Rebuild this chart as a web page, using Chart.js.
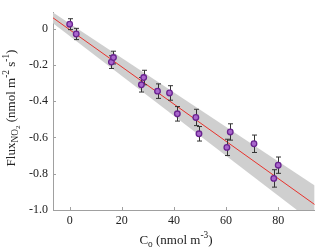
<!DOCTYPE html>
<html>
<head>
<meta charset="utf-8">
<script src="https://cdn.jsdelivr.net/npm/chart.js@4.4.0/dist/chart.umd.min.js"></script>
<style>
  html, body { margin: 0; padding: 0; background: #fff; }
  #wrap { width: 320px; height: 251px; }
</style>
</head>
<body>
<div id="wrap"><canvas id="chart" width="320" height="251"></canvas></div>
<script>
// measured points (C_o, flux) with error bars
const concX = [0, 2.5, 16, 16.8, 27.5, 28.4, 33.7, 38.3, 41.3, 48.4, 49.6, 60.3, 61.6, 70.7, 78.3, 80];
const fluxY = [0.024, -0.03, -0.185, -0.16, -0.31, -0.27, -0.345, -0.355, -0.47, -0.49, -0.58, -0.655, -0.57, -0.635, -0.826, -0.753];
const fluxErr = [0.03, 0.031, 0.035, 0.035, 0.04, 0.04, 0.04, 0.04, 0.04, 0.045, 0.04, 0.045, 0.045, 0.048, 0.048, 0.045];

// regression line and shaded band
const fitX = [-6.4, 94];
const fitY = [0.059, -0.97];
const bandUpper = [0.089, -0.865];
const bandLower = [0.029, -1.075];

const xTicks = [0, 20, 40, 60, 80];
const yTicks = [-1.0, -0.8, -0.6, -0.4, -0.2, 0];

const serif = "'Liberation Serif', 'Times New Roman', serif";
const axisColor = '#a0a0a0';

function pts(xs, ys) {
  return xs.map((x, i) => ({ x: x, y: ys[i] }));
}

// error bars, drawn right after the fit line so markers sit on top
const errorBars = {
  id: 'errorBars',
  afterDatasetDraw(chart, args) {
    if (args.index !== 1) return;
    const ctx = chart.ctx;
    const xs = chart.scales.x, ys = chart.scales.y;
    ctx.save();
    ctx.strokeStyle = '#333';
    ctx.lineWidth = 1;
    concX.forEach((cx, i) => {
      const px = Math.round(xs.getPixelForValue(cx)) + 0.5;
      const top = ys.getPixelForValue(fluxY[i] + fluxErr[i]);
      const bot = ys.getPixelForValue(fluxY[i] - fluxErr[i]);
      ctx.beginPath();
      ctx.moveTo(px, top); ctx.lineTo(px, bot);
      ctx.moveTo(px - 2.5, top); ctx.lineTo(px + 2.5, top);
      ctx.moveTo(px - 2.5, bot); ctx.lineTo(px + 2.5, bot);
      ctx.stroke();
    });
    ctx.restore();
  }
};

function drawRich(ctx, parts, size) {
  // parts: [text, kind] kind: n, sub, subsub, sup
  const spec = {
    n: { s: 1, dy: 0 },
    sub: { s: 0.72, dy: 0.3 },
    subsub: { s: 0.55, dy: 0.5 },
    sup: { s: 0.72, dy: -0.4 }
  };
  let total = 0;
  parts.forEach(p => {
    ctx.font = (size * spec[p[1]].s) + 'px ' + serif;
    total += ctx.measureText(p[0]).width;
  });
  let x = -total / 2;
  parts.forEach(p => {
    const sp = spec[p[1]];
    ctx.font = (size * sp.s) + 'px ' + serif;
    ctx.fillText(p[0], x, sp.dy * size);
    x += ctx.measureText(p[0]).width;
  });
}

const axisDecor = {
  id: 'axisDecor',
  afterDraw(chart) {
    const ctx = chart.ctx;
    const xs = chart.scales.x, ys = chart.scales.y;
    const area = chart.chartArea;
    ctx.save();
    // inward tick marks
    ctx.strokeStyle = axisColor;
    ctx.lineWidth = 1;
    ctx.beginPath();
    xTicks.forEach(v => {
      const px = Math.round(xs.getPixelForValue(v)) + 0.5;
      ctx.moveTo(px, area.bottom); ctx.lineTo(px, area.bottom - 3);
    });
    yTicks.forEach(v => {
      const py = Math.round(ys.getPixelForValue(v)) + 0.5;
      ctx.moveTo(area.left, py); ctx.lineTo(area.left + 3, py);
    });
    ctx.stroke();

    // axis titles
    ctx.fillStyle = '#222';
    ctx.textBaseline = 'middle';
    ctx.textAlign = 'left';
    ctx.save();
    ctx.translate(176, 241);
    drawRich(ctx, [['C', 'n'], ['o', 'sub'], [' (nmol m', 'n'], ['-3', 'sup'], [')', 'n']], 13);
    ctx.restore();

    ctx.save();
    ctx.translate(12, 108);
    ctx.rotate(-Math.PI / 2);
    drawRich(ctx, [['Flux', 'n'], ['NO', 'sub'], ['2', 'subsub'], [' (nmol m', 'n'], ['-2', 'sup'], [' s', 'n'], ['-1', 'sup'], [')', 'n']], 13);
    ctx.restore();
    ctx.restore();
  }
};

new Chart(document.getElementById('chart'), {
  type: 'scatter',
  data: {
    datasets: [
      {
        label: 'Flux',
        data: pts(concX, fluxY),
        pointStyle: 'circle',
        pointRadius: 2.8,
        backgroundColor: '#a866cc',
        borderColor: '#6a2390',
        borderWidth: 1.3
      },
      {
        label: 'Fit',
        type: 'line',
        data: pts(fitX, fitY),
        borderColor: '#e8322c',
        borderWidth: 1,
        pointRadius: 0,
        fill: false
      },
      {
        label: 'Band upper',
        type: 'line',
        data: pts(fitX, bandUpper),
        borderWidth: 0,
        borderColor: 'rgba(0,0,0,0)',
        pointRadius: 0,
        backgroundColor: '#cfcfcf',
        fill: '+1'
      },
      {
        label: 'Band lower',
        type: 'line',
        data: pts(fitX, bandLower),
        borderWidth: 0,
        borderColor: 'rgba(0,0,0,0)',
        pointRadius: 0,
        fill: false
      }
    ]
  },
  options: {
    responsive: false,
    animation: false,
    layout: { padding: { top: 12, right: 1, left: 0, bottom: 0 } },
    plugins: {
      legend: { display: false },
      tooltip: { enabled: false }
    },
    scales: {
      x: {
        type: 'linear',
        min: -6.4,
        max: 94,
        afterBuildTicks: s => { s.ticks = xTicks.map(v => ({ value: v })); },
        afterFit: s => { s.height = 41; },
        grid: { drawOnChartArea: false, drawTicks: false },
        border: { display: true, color: axisColor, width: 1 },
        ticks: {
          padding: 4,
          color: '#222',
          font: { family: serif, size: 12 },
          callback: v => String(v)
        }
      },
      y: {
        type: 'linear',
        min: -1.0,
        max: 0.09,
        afterBuildTicks: s => { s.ticks = yTicks.map(v => ({ value: v })); },
        afterFit: s => { s.width = 53; },
        grid: { drawOnChartArea: false, drawTicks: false },
        border: { display: true, color: axisColor, width: 1 },
        ticks: {
          padding: 5,
          color: '#222',
          font: { family: serif, size: 12 },
          callback: v => (v === 0 ? '0' : v.toFixed(1))
        }
      }
    }
  },
  plugins: [errorBars, axisDecor]
});
</script>
</body>
</html>
